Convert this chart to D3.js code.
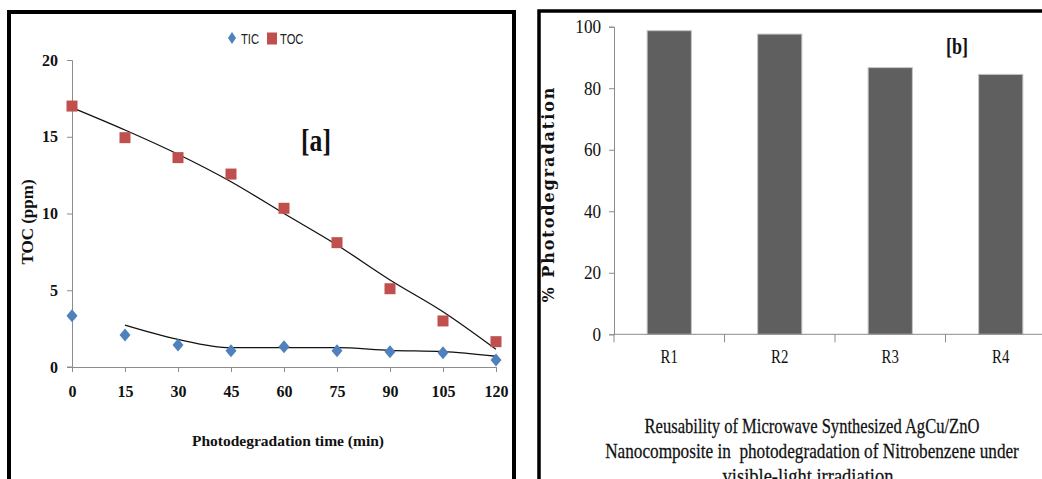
<!DOCTYPE html>
<html>
<head>
<meta charset="utf-8">
<script src="https://cdn.jsdelivr.net/npm/d3@7"></script>
<style>
    body { margin: 0; background: #fff; }
    svg { display: block; }
</style>
</head>
<body>
<svg id="chart" width="1042" height="479"></svg>
<script>
// ---- panel [a] : TIC / TOC against time ----
const times = [0, 15, 30, 45, 60, 75, 90, 105, 120];
const tic = [3.34, 2.08, 1.43, 1.06, 1.32, 1.06, 1.0, 0.93, 0.46];
const toc = [17.0, 14.94, 13.64, 12.57, 10.34, 8.1, 5.1, 3.0, 1.65];
// trend lines as they are drawn in the figure
const ticTrendTimes = [15, 30, 45, 60, 75, 90, 105, 120];
const ticTrend = [2.73, 1.8, 1.26, 1.26, 1.26, 1.08, 1.0, 0.7];
const tocTrend = [16.9, 15.44, 13.86, 12.07, 10.0, 7.95, 5.67, 3.6, 1.15];
const yTicksA = [0, 5, 10, 15, 20];
const seriesA = ['TIC', 'TOC'];

// ---- panel [b] : reusability ----
const runs = ['R1', 'R2', 'R3', 'R4'];
const degradation = [98.7, 97.6, 86.7, 84.5];
const yTicksB = [0, 20, 40, 60, 80, 100];
const captionLines = [
    'Reusability of Microwave Synthesized AgCu/ZnO',
    'Nanocomposite in  photodegradation of Nitrobenzene under',
    'visible-light irradiation'
];

const blue = '#4f81bd', red = '#c0504d', axisCol = '#8c8c8c';
const serif = '"Liberation Serif", "DejaVu Serif", serif';

const svg = d3.select('#chart');

// squeeze text horizontally (the original font is a narrow one)
function condense(sel, k) {
    sel.each(function () {
        const w = this.getComputedTextLength();
        d3.select(this).attr('textLength', w * k).attr('lengthAdjust', 'spacingAndGlyphs');
    });
}

// panel frames
svg.append('rect').attr('x', 9).attr('y', 12).attr('width', 505).attr('height', 500)
    .attr('fill', 'none').attr('stroke', '#000').attr('stroke-width', 4);
svg.append('rect').attr('x', 539).attr('y', 11).attr('width', 600).attr('height', 500)
    .attr('fill', 'none').attr('stroke', '#000').attr('stroke-width', 3.5);

// ================= panel [a] =================
const xA = d3.scaleLinear().domain([0, 120]).range([72, 496]);
const yA = d3.scaleLinear().domain([0, 20]).range([367, 60]);

const gA = svg.append('g');

const axA_y = gA.append('g').attr('transform', `translate(${xA(0)},0)`)
    .call(d3.axisLeft(yA).tickValues(yTicksA).tickSize(5).tickPadding(9));
const axA_x = gA.append('g').attr('transform', `translate(0,${yA(0)})`)
    .call(d3.axisBottom(xA).tickValues(times).tickSize(5).tickPadding(14));
[axA_y, axA_x].forEach(ax => {
    ax.select('.domain').attr('stroke', axisCol);
    ax.selectAll('.tick line').attr('stroke', axisCol);
    ax.selectAll('text').attr('font-family', serif).attr('font-weight', 'bold')
        .attr('font-size', 16).attr('fill', '#111');
});
// extend x axis line to the left tick
gA.append('line').attr('x1', xA(0) - 5).attr('x2', xA(0)).attr('y1', yA(0)).attr('y2', yA(0))
    .attr('stroke', axisCol);

// trend lines
const lineA = d3.line().curve(d3.curveMonotoneX);
gA.append('path')
    .attr('d', lineA(times.map((t, i) => [xA(t), yA(tocTrend[i])])))
    .attr('fill', 'none').attr('stroke', '#111').attr('stroke-width', 1.3);
gA.append('path')
    .attr('d', lineA(ticTrendTimes.map((t, i) => [xA(t), yA(ticTrend[i])])))
    .attr('fill', 'none').attr('stroke', '#111').attr('stroke-width', 1.3);

// markers
gA.selectAll('.toc').data(times).join('rect').attr('class', 'toc')
    .attr('x', (t) => xA(t) - 5.5).attr('y', (t, i) => yA(toc[i]) - 5.5)
    .attr('width', 11).attr('height', 11).attr('fill', red);
gA.selectAll('.tic').data(times).join('path').attr('class', 'tic')
    .attr('transform', (t, i) => `translate(${xA(t)},${yA(tic[i])})`)
    .attr('d', 'M0,-6.5L5.5,0L0,6.5L-5.5,0Z').attr('fill', blue);

// axis titles
gA.append('text').attr('x', 288).attr('y', 446).attr('text-anchor', 'middle')
    .attr('font-family', serif).attr('font-weight', 'bold').attr('font-size', 15.5)
    .attr('fill', '#111').text('Photodegradation time (min)');
gA.append('text').attr('transform', 'translate(33,222) rotate(-90)').attr('text-anchor', 'middle')
    .attr('font-family', serif).attr('font-weight', 'bold').attr('font-size', 17)
    .attr('fill', '#111').text('TOC (ppm)');

// legend
const legA = gA.append('g');
legA.append('path').attr('transform', 'translate(232,38)')
    .attr('d', 'M0,-6L4,0L0,6L-4,0Z').attr('fill', blue);
legA.append('rect').attr('x', 267).attr('y', 32.5).attr('width', 10).attr('height', 12).attr('fill', red);
const legTxt = legA.selectAll('.lt').data(seriesA).join('text').attr('class', 'lt')
    .attr('x', (d, i) => i === 0 ? 241 : 280).attr('y', 44)
    .attr('font-family', '"Liberation Sans Narrow", "Liberation Sans", sans-serif')
    .attr('font-size', 14).attr('fill', '#222').text(d => d);
condense(legTxt, 0.8);

// [a]
const labA = gA.append('text').attr('x', 316).attr('y', 151).attr('text-anchor', 'middle')
    .attr('font-family', serif).attr('font-weight', 'bold').attr('font-size', 32)
    .attr('fill', '#111').text('[a]');
condense(labA, 0.8);

// ================= panel [b] =================
const xB = d3.scaleBand().domain(runs).range([614, 1056]).paddingInner(0.6).paddingOuter(0.3);
const yB = d3.scaleLinear().domain([0, 100]).range([334.3, 26.7]);
const step = xB.step();

const gB = svg.append('g');

gB.selectAll('.bar').data(runs).join('rect').attr('class', 'bar')
    .attr('x', d => xB(d)).attr('width', xB.bandwidth())
    .attr('y', (d, i) => yB(degradation[i])).attr('height', (d, i) => yB(0) - yB(degradation[i]))
    .attr('fill', '#5f5f5f').attr('stroke', '#c4c4c4').attr('stroke-width', 1);

const axB_y = gB.append('g').attr('transform', 'translate(614,0)')
    .call(d3.axisLeft(yB).tickValues(yTicksB).tickSize(5).tickPadding(8));
axB_y.select('.domain').attr('stroke', axisCol);
axB_y.selectAll('.tick line').attr('stroke', axisCol);
axB_y.selectAll('text').attr('font-family', serif).attr('font-size', 19).attr('fill', '#111');
condense(axB_y.selectAll('text'), 0.9);

// x axis: line plus ticks at the category boundaries
gB.append('line').attr('x1', 614).attr('x2', 1042).attr('y1', yB(0)).attr('y2', yB(0))
    .attr('stroke', axisCol);
gB.selectAll('.xt').data(runs).join('line').attr('class', 'xt')
    .attr('x1', (d, i) => 614 + i * step).attr('x2', (d, i) => 614 + i * step)
    .attr('y1', yB(0)).attr('y2', yB(0) + 8).attr('stroke', axisCol);
const xLab = gB.selectAll('.xl').data(runs).join('text').attr('class', 'xl')
    .attr('x', d => xB(d) + xB.bandwidth() / 2).attr('y', 363).attr('text-anchor', 'middle')
    .attr('font-family', serif).attr('font-size', 19).attr('fill', '#111').text(d => d);
condense(xLab, 0.78);

// y title
gB.append('text').attr('transform', 'translate(554,195) rotate(-90)').attr('text-anchor', 'middle')
    .attr('font-family', '"DejaVu Serif", serif').attr('font-weight', 'bold').attr('font-size', 16)
    .attr('fill', '#111').attr('textLength', 215).attr('lengthAdjust', 'spacing')
    .text('% Photodegradation');

// [b]
const labB = gB.append('text').attr('x', 957).attr('y', 54).attr('text-anchor', 'middle')
    .attr('font-family', serif).attr('font-weight', 'bold').attr('font-size', 24)
    .attr('fill', '#111').text('[b]');
condense(labB, 0.75);

// caption under the chart, squeezed with a scale so its box stays true
const capWidths = [335, 414, 171];
const capX = [812, 812, 808];
gB.selectAll('.cap').data(captionLines).join('text').attr('class', 'cap')
    .attr('text-anchor', 'middle').style('white-space', 'pre')
    .attr('font-family', serif).attr('font-size', 21).attr('fill', '#111')
    .attr('stroke', '#111').attr('stroke-width', 0.25)
    .text(d => d)
    .each(function (d, i) {
        const k = capWidths[i] / this.getComputedTextLength();
        d3.select(this).attr('transform', `translate(${capX[i]},${433 + i * 25}) scale(${k},1)`);
    });
</script>
</body>
</html>
